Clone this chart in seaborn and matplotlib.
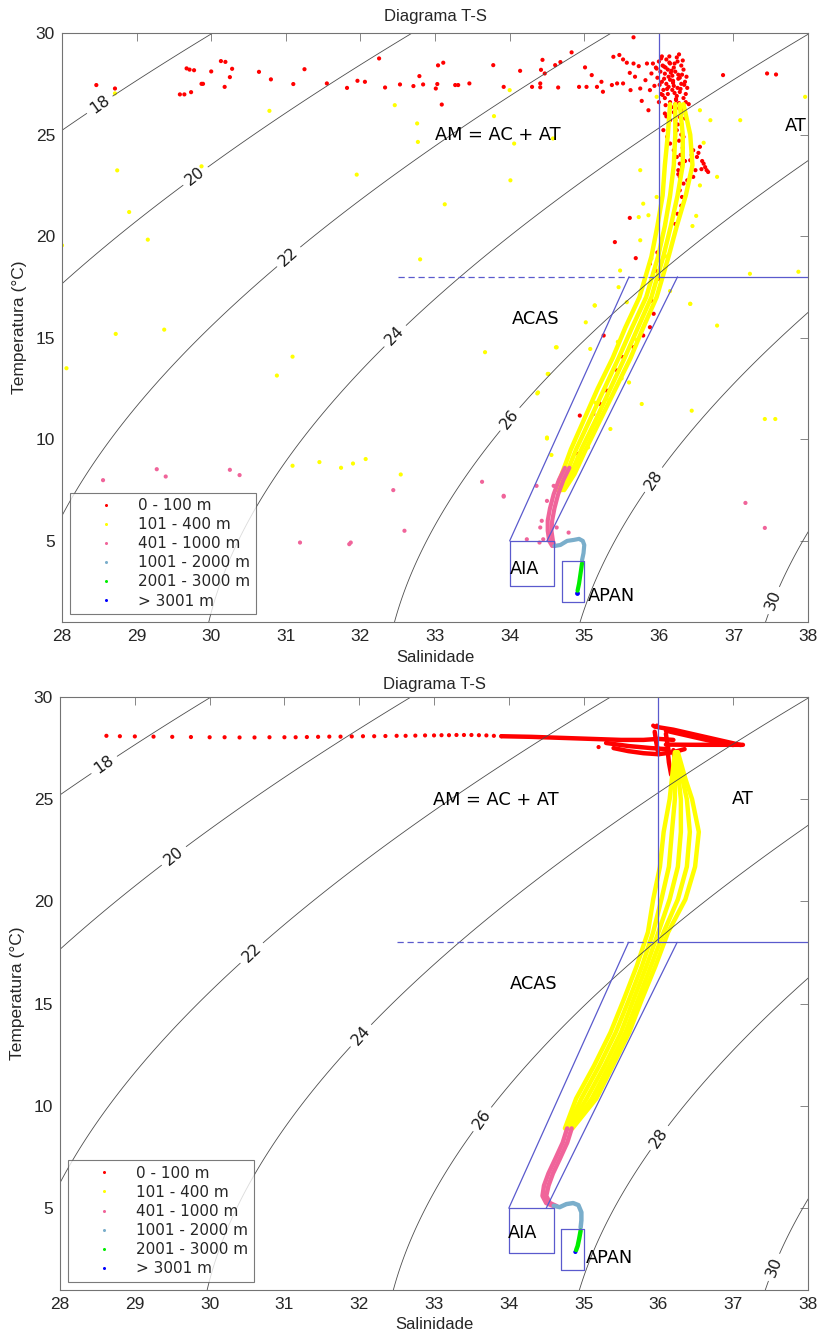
import numpy as np
import pandas as pd
import matplotlib
matplotlib.use("Agg")
import matplotlib.pyplot as plt
from matplotlib.lines import Line2D
import seaborn as sns

# ---------------- categories / styles ----------------
camadas = ['0 - 100 m', '101 - 400 m', '401 - 1000 m', '1001 - 2000 m', '2001 - 3000 m', '> 3001 m']
cores = ['#ff0000', '#ffff00', '#f0649a', '#7aaecb', '#00ee00', '#0000ff']
niveis_sigma = [18, 20, 22, 24, 26, 28, 30]

# ---------------- TOP PANEL DATA (observations) ----------------
top_red_S = [28.46, 28.71, 29.58, 29.64, 29.73, 29.67, 29.71, 29.77, 29.87, 29.89, 30.0, 30.13, 30.19, 30.25,
             30.28, 30.18, 30.64, 30.8, 31.1, 31.25, 31.55, 31.82, 31.96, 32.06, 32.25, 32.33, 32.53, 32.71,
             32.79, 32.84, 33.01, 33.03, 33.04, 33.11, 33.09, 33.27, 33.31, 33.46, 33.78, 33.92, 34.14, 34.3,
             34.41, 34.41, 34.42, 34.44, 34.47, 34.61, 34.65, 34.68, 34.83, 34.93,
             35.01, 35.03, 35.10, 35.17, 35.23, 35.25, 35.37, 35.39, 35.44, 35.47, 35.52, 35.52, 35.57, 35.61,
             35.62, 35.66, 35.68, 35.73, 35.75, 35.77, 35.82, 35.84, 35.86, 35.88, 35.9, 35.66, 36.86, 37.45,
             37.57, 35.61, 35.41, 35.69]
top_red_T = [27.44, 27.27, 26.98, 26.98, 27.09, 28.26, 28.2, 28.17, 27.5, 27.5, 28.11, 28.62, 28.58, 27.83,
             28.24, 27.35, 28.09, 27.72, 27.49, 28.22, 27.52, 27.3, 27.65, 27.6, 28.75, 27.32, 27.47, 27.39,
             27.88, 27.47, 27.27, 27.49, 28.41, 28.54, 26.48, 27.44, 27.44, 27.52, 28.42, 27.35, 28.14, 27.35,
             27.52, 27.33, 28.19, 28.68, 28.01, 28.42, 27.32, 28.57, 29.05, 27.35,
             28.31, 27.35, 27.93, 27.35, 27.6, 27.11, 27.44, 28.83, 27.52, 28.92, 27.52, 28.7, 28.54, 28.04,
             27.19, 28.5, 27.85, 28.37, 27.27, 26.66, 27.68, 28.5, 26.2, 27.19, 28.01, 29.79, 27.93, 28.01,
             27.96, 20.9, 19.71, 18.92]
top_red_cl_S = [36.00, 36.05, 36.10, 36.15, 36.20, 36.25, 36.30, 36.02, 36.08, 36.12, 36.18, 36.22, 36.28, 36.33,
                36.35, 35.98, 36.04, 36.10, 36.15, 36.20, 36.25, 36.30, 36.06, 36.12, 36.18, 36.24, 36.28, 36.33,
                36.15, 36.22, 36.27, 36.30, 35.96, 36.14, 36.24, 36.38, 36.08, 36.20, 36.35, 36.03, 36.17, 36.27,
                35.92, 35.94, 36.00, 36.36, 36.40, 36.30, 36.22, 36.10, 36.19, 36.26, 36.07, 36.31, 36.13, 36.23,
                35.97, 36.03, 36.09, 36.16, 36.21, 36.26, 36.32, 36.37, 36.01, 36.07, 36.13, 36.19, 36.29, 36.34,
                36.05, 36.11, 36.23, 36.17, 36.27, 36.09, 36.21, 36.31, 36.14, 36.04, 36.36]
top_red_cl_T = [28.6, 28.4, 28.7, 28.5, 28.3, 28.6, 28.4, 28.1, 28.0, 28.2, 27.9, 28.1, 27.8, 28.2,
                27.6, 27.8, 27.6, 27.5, 27.7, 27.4, 27.3, 27.5, 27.2, 27.0, 27.2, 26.9, 27.1, 26.8,
                26.6, 26.5, 26.3, 26.0, 28.3, 28.85, 28.8, 27.3, 26.8, 26.1, 25.8, 27.0, 28.15, 28.95,
                28.5, 27.4, 26.6, 27.0, 26.5, 25.5, 25.7, 25.9, 27.65, 27.75, 28.35, 27.95, 27.35, 26.75,
                28.25, 28.75, 28.3, 28.05, 28.5, 27.95, 28.65, 27.85, 27.45, 27.75, 27.85, 27.55, 27.25, 27.45,
                26.95, 27.25, 26.7, 26.35, 26.55, 26.45, 27.05, 26.2, 28.55, 28.85, 26.6]
top_red_tail_S = [36.06, 36.11, 36.15, 36.2, 36.24, 36.28, 36.26, 36.28, 36.33, 36.28, 36.31, 36.46, 36.51, 36.55,
                  36.6, 36.64, 36.66, 36.49, 36.46, 36.42, 36.24, 36.15, 36.08, 36.28, 36.33, 36.3, 36.25, 36.22,
                  36.25, 36.3, 36.27, 36.32, 36.29, 36.35, 36.31, 36.26, 36.38, 36.44, 36.53, 36.58, 36.62, 36.57]
top_red_tail_T = [25.22, 24.89, 24.56, 24.23, 23.9, 23.57, 23.25, 22.92, 22.59, 22.26, 21.93, 24.23, 23.9, 24.4,
                  23.57, 23.25, 23.16, 23.25, 22.92, 23.74, 25.22, 25.71, 26.04, 25.87, 24.89, 21.5, 21.1, 20.6,
                  25.5, 25.0, 24.7, 24.35, 24.0, 23.7, 23.4, 23.05, 22.75, 24.0, 24.1, 23.7, 23.4, 23.3]
top_red_band_S = [35.88, 35.9, 35.93, 35.88, 35.79, 35.66, 35.52, 35.44, 35.3, 35.21, 35.12, 34.94, 34.92, 35.26,
                  35.96, 36.0, 35.98]
top_red_band_T = [18.64, 16.83, 16.18, 15.52, 15.11, 14.54, 14.05, 13.39, 12.4, 11.75, 11.25, 11.17, 9.28, 15.11,
                  18.3, 17.9, 19.2]
top_yel_S = [28.71, 28.74, 28.9, 29.15, 28.0, 29.87, 30.78, 31.95, 32.46, 32.76, 32.77, 32.8, 33.13, 33.79, 34.0,
             34.01, 34.06, 34.58, 28.06, 28.72, 29.37, 31.09, 30.88, 31.09, 31.45, 31.74, 31.9, 32.07, 32.54, 33.67,
             34.62, 34.51, 34.37, 34.5, 34.56, 37.09, 37.96, 37.87, 37.22, 36.78, 36.69, 36.55, 36.42, 36.78, 35.75,
             35.79, 35.73, 35.97, 35.86, 35.75, 35.48, 35.14, 35.46, 35.57, 35.97, 35.14, 35.02, 34.63, 34.52, 34.38,
             35.08, 36.42, 35.77, 36.44, 35.35, 34.5, 37.42, 37.56, 36.1, 36.5, 36.55, 36.0, 35.7, 35.5, 35.3,
             35.05, 34.85, 35.6, 35.45, 35.9, 36.15, 36.45, 36.6, 35.15]
top_yel_T = [27.03, 23.24, 21.19, 19.83, 19.55, 23.44, 26.17, 23.03, 26.45, 25.55, 24.64, 18.86, 21.57, 25.91, 27.19,
             22.75, 24.56, 24.81, 13.5, 15.19, 15.4, 14.07, 13.14, 8.7, 8.88, 8.6, 8.81, 9.03, 8.27, 14.29,
             14.53, 13.22, 12.26, 10.04, 9.23, 25.71, 26.86, 18.25, 18.15, 22.92, 25.71, 26.2, 16.67, 15.6, 23.25,
             21.6, 20.94, 21.93, 21.03, 19.8, 18.31, 16.59, 17.49, 16.75, 26.86, 16.59, 15.76, 14.53, 13.22, 12.31,
             14.45, 16.67, 11.74, 11.41, 10.51, 10.09, 11.0, 11.0, 19.0, 21.0, 22.5, 17.4, 14.9, 13.0, 12.0,
             9.6, 8.6, 12.8, 14.8, 18.9, 17.3, 20.5, 24.6, 11.8]
# CTD-like profiles of the dense 101-400 m band
top_yel_prof_T = [26.5, 25.0, 23.5, 22.0, 20.5, 19.0, 18.0, 17.0, 15.5, 14.0, 12.5, 11.0, 9.5, 8.3, 7.5]
top_yel_prof_A = [36.15, 36.12, 36.08, 36.05, 35.98, 35.90, 35.82, 35.74, 35.55, 35.38, 35.18, 35.00, 34.82, 34.70, 34.62]
top_yel_prof_B = [36.22, 36.22, 36.20, 36.15, 36.08, 35.99, 35.91, 35.83, 35.64, 35.46, 35.27, 35.08, 34.89, 34.76, 34.66]
top_yel_prof_C = [36.28, 36.32, 36.32, 36.25, 36.16, 36.06, 35.98, 35.90, 35.72, 35.54, 35.35, 35.16, 34.96, 34.82, 34.70]
top_yel_prof_D = [36.33, 36.42, 36.45, 36.36, 36.24, 36.13, 36.05, 35.97, 35.79, 35.62, 35.42, 35.22, 35.02, 34.87, 34.73]
top_pink_S = [28.55, 29.27, 29.39, 30.25, 30.38, 31.19, 31.85, 31.87, 32.44, 32.59, 33.63, 33.92, 34.36, 34.5,
              34.41, 34.45, 33.92, 34.59, 34.43, 34.23, 34.4, 34.79, 34.63, 37.16, 37.42]
top_pink_T = [7.99, 8.53, 8.17, 8.5, 8.24, 4.92, 4.84, 4.92, 7.5, 5.5, 7.91, 7.18, 7.71, 6.97,
              5.66, 5.08, 7.22, 7.71, 5.99, 5.08, 4.92, 5.41, 5.66, 6.87, 5.64]
top_pink_prof_T = [8.6, 8.0, 7.3, 6.6, 6.0, 5.5, 5.0, 4.75]
top_pink_prof_A = [34.74, 34.66, 34.59, 34.54, 34.51, 34.51, 34.53, 34.57]
top_pink_prof_B = [34.80, 34.72, 34.65, 34.60, 34.57, 34.56, 34.58, 34.60]
top_lblue_S = [34.60, 34.68, 34.77, 34.86, 34.93, 34.98, 35.00, 34.99, 34.97]
top_lblue_T = [4.75, 4.80, 5.00, 5.05, 5.10, 5.00, 4.80, 4.40, 4.05]
top_green_S = [34.97, 34.95, 34.93, 34.91]
top_green_T = [3.90, 3.40, 2.90, 2.55]
top_blue_S = [34.90]
top_blue_T = [2.45]

# ---------------- BOTTOM PANEL DATA (model) ----------------
bot_red_dots_S = [28.62, 28.8, 29.0, 29.25, 29.5, 29.75, 30.0, 30.2, 30.4, 30.6, 30.8, 31.0, 31.15, 31.3, 31.45,
                  31.6, 31.75, 31.9, 32.05, 32.2, 32.35, 32.5, 32.62, 32.75, 32.88, 33.0, 33.1, 33.2, 33.3, 33.4,
                  33.5, 33.6, 33.7, 33.8, 33.9, 35.2, 35.93, 35.98]
bot_red_dots_T = [28.1, 28.08, 28.07, 28.06, 28.05, 28.04, 28.03, 28.03, 28.02, 28.02, 28.03, 28.03, 28.03, 28.04,
                  28.05, 28.06, 28.06, 28.07, 28.08, 28.08, 28.09, 28.1, 28.1, 28.11, 28.12, 28.12, 28.13, 28.13,
                  28.14, 28.14, 28.14, 28.13, 28.12, 28.1, 28.08, 27.55, 28.6, 28.6]
bot_red_lines = [
    ([33.9, 34.3, 34.7, 35.1, 35.5, 35.8, 36.0, 36.2], [28.08, 28.05, 28.0, 27.95, 27.9, 27.9, 27.95, 27.9]),
    ([35.4, 35.6, 35.8, 36.0, 36.2, 36.35], [27.5, 27.35, 27.25, 27.2, 27.3, 27.45]),
    ([35.3, 35.6, 35.9, 36.1], [27.75, 27.6, 27.5, 27.45]),
    ([35.95, 35.97, 36.0], [28.3, 27.8, 27.2]),
    ([36.1, 36.12, 36.14], [28.2, 27.7, 27.3]),
    ([35.95, 36.2, 36.5, 36.8, 37.1], [28.55, 28.4, 28.15, 27.9, 27.65]),
    ([36.1, 36.4, 36.7, 37.0], [28.35, 28.1, 27.85, 27.65]),
    ([36.1, 36.5, 36.8, 37.13], [27.67, 27.66, 27.66, 27.66]),
    ([36.2, 36.22, 36.24, 36.25], [27.4, 26.9, 26.4, 25.9]),
    ([36.12, 36.14, 36.17], [27.5, 26.8, 26.2]),
]
bot_yel_T = [27.3, 26.0, 25.0, 23.4, 21.7, 20.1, 18.5, 16.84, 15.23, 13.6, 11.97, 10.36, 8.9]
bot_yel_profiles = [
    [36.22, 36.18, 36.15, 36.07, 36.02, 35.93, 35.86, 35.71, 35.54, 35.36, 35.14, 34.90, 34.75],
    [36.23, 36.22, 36.22, 36.18, 36.14, 36.04, 35.93, 35.78, 35.61, 35.43, 35.21, 34.97, 34.78],
    [36.24, 36.27, 36.30, 36.30, 36.26, 36.15, 36.00, 35.84, 35.67, 35.50, 35.28, 35.04, 34.80],
    [36.25, 36.32, 36.38, 36.42, 36.38, 36.26, 36.07, 35.90, 35.73, 35.56, 35.34, 35.11, 34.83],
    [36.26, 36.36, 36.45, 36.54, 36.49, 36.36, 36.13, 35.96, 35.78, 35.61, 35.39, 35.17, 34.85],
]
bot_pink_T = [8.9, 8.2, 7.4, 6.7, 6.1, 5.6, 5.25, 5.1]
bot_pink_profiles = [
    [34.78, 34.72, 34.62, 34.53, 34.47, 34.45, 34.50, 34.60],
    [34.84, 34.78, 34.68, 34.59, 34.53, 34.50, 34.55, 34.64],
]
bot_lblue_S = [34.60, 34.68, 34.77, 34.86, 34.93, 34.97, 34.97, 34.96]
bot_lblue_T = [5.12, 5.05, 5.20, 5.25, 5.15, 4.80, 4.40, 4.05]
bot_green_S = [34.96, 34.94, 34.92, 34.90]
bot_green_T = [3.90, 3.50, 3.15, 2.95]
bot_blue_S = [34.89]
bot_blue_T = [2.86]

# water-mass labels and contour-label anchors
massas_txt = ['AM = AC + AT', 'AT', 'ACAS', 'AIA', 'APAN']
top_txt_pos = [(33.0, 24.97), (37.69, 25.4), (34.03, 15.9), (34.0, 3.62), (35.05, 2.29)]
bot_txt_pos = [(32.99, 24.98), (36.98, 25.0), (34.02, 15.96), (33.99, 3.78), (35.03, 2.56)]
top_clabel_pos = [(28.51, 26.45), (29.78, 23.0), (31.06, 18.9), (32.46, 15.1), (34.03, 10.92), (35.95, 7.96), (37.56, 2.04)]
bot_clabel_pos = [(28.75, 25.9), (29.54, 22.15), (30.51, 17.67), (32.1, 13.2), (33.95, 8.6), (36.02, 8.41), (37.7, 1.9)]


def sigma_t(S, T):
    rw = (999.842594 + 6.793952e-2 * T - 9.095290e-3 * T**2 + 1.001685e-4 * T**3
          - 1.120083e-6 * T**4 + 6.536332e-9 * T**5)
    A = 8.24493e-1 - 4.0899e-3 * T + 7.6438e-5 * T**2 - 8.2467e-7 * T**3 + 5.3875e-9 * T**4
    B = -5.72466e-3 + 1.0227e-4 * T - 1.6546e-6 * T**2
    C = 4.8314e-4
    return rw + A * S + B * S**1.5 + C * S**2 - 1000.0


def pts(S, T, c):
    return pd.DataFrame({'S': S, 'T': T, 'camada': camadas[c]})


def prof(S, T, c, pid):
    return pd.DataFrame({'S': S, 'T': T, 'camada': camadas[c], 'perfil': pid})


sns.set_theme(style='white')
plt.rcParams['font.family'] = ['DejaVu Sans']
pal = dict(zip(camadas, cores))
box_c = '#5a5acd'
axfont = 'Liberation Sans'

fig = plt.figure(figsize=(8.19, 13.38), dpi=100)
ax1 = fig.add_axes([0.0757, 0.535, 0.911, 0.4403])
ax2 = fig.add_axes([0.0733, 0.0359, 0.9133, 0.4432])

Sg, Tg = np.meshgrid(np.linspace(27.5, 38.5, 300), np.linspace(0.5, 30.5, 300))
SIG = sigma_t(Sg, Tg)


def decorate(ax, txt_pos, cl_pos, title_pad):
    cs = ax.contour(Sg, Tg, SIG, levels=niveis_sigma, colors='0.3', linewidths=0.6)
    ax.clabel(cs, manual=cl_pos, inline=True, fontsize=11.5, fmt='%d', inline_spacing=4, colors='k')
    # water-mass limits
    ax.plot([36, 36], [18, 30], color=box_c, lw=0.9)
    ax.plot([36, 38], [18, 18], color=box_c, lw=0.9)
    ax.plot([32.5, 36], [18, 18], color=box_c, lw=0.9, ls=(0, (5, 3)))
    ax.plot([34.0, 35.6], [5, 18], color=box_c, lw=0.9)
    ax.plot([34.5, 36.25], [5, 18], color=box_c, lw=0.9)
    ax.plot([34.0, 34.6, 34.6, 34.0, 34.0], [5, 5, 2.8, 2.8, 5], color=box_c, lw=0.9)
    ax.plot([34.7, 35.0, 35.0, 34.7, 34.7], [4.0, 4.0, 2.0, 2.0, 4.0], color=box_c, lw=0.9)
    for t, (x, y) in zip(massas_txt, txt_pos):
        ax.text(x, y, t, fontsize=12.8, ha='left', va='center', color='black')
    ax.set_xlim(28, 38)
    ax.set_ylim(1, 30)
    ax.set_xticks(range(28, 39))
    ax.set_yticks([5, 10, 15, 20, 25, 30])
    ax.tick_params(direction='in', top=True, right=True, length=6, width=0.6, color='0.45',
                   labelsize=12.5, pad=5)
    for lab in ax.get_xticklabels() + ax.get_yticklabels():
        lab.set_family(axfont)
    for sp in ax.spines.values():
        sp.set_color('0.45')
        sp.set_linewidth(0.8)
    ax.set_xlabel('Salinidade', family=axfont, fontsize=12, labelpad=4)
    ax.set_ylabel('Temperatura (°C)', family=axfont, fontsize=12.5, labelpad=6)
    ax.set_title('Diagrama T-S', family=axfont, fontsize=12, pad=title_pad)
    handles = [Line2D([], [], ls='none', marker='o', ms=2.2, mec='none', mfc=c) for c in cores]
    leg = ax.legend(handles, camadas, loc='lower left', bbox_to_anchor=(0.011, 0.014), borderaxespad=0,
                    frameon=True, fancybox=False, edgecolor='0.35', fontsize=11, handlelength=4.0,
                    handletextpad=0.1, borderpad=0.35, labelspacing=0.27)
    leg.get_frame().set_linewidth(0.8)
    leg.set_zorder(10)


# ----- top panel -----
top_lines = pd.concat([
    prof(top_yel_prof_A, top_yel_prof_T, 1, 'yA'), prof(top_yel_prof_B, top_yel_prof_T, 1, 'yB'),
    prof(top_yel_prof_C, top_yel_prof_T, 1, 'yC'), prof(top_yel_prof_D, top_yel_prof_T, 1, 'yD'),
], ignore_index=True)
sns.lineplot(data=top_lines, x='S', y='T', hue='camada', units='perfil', estimator=None, sort=False,
             palette=pal, lw=3.2, legend=False, ax=ax1, solid_capstyle='round')
top_pts = pd.concat([
    pts(top_yel_S, top_yel_T, 1), pts(top_red_S, top_red_T, 0), pts(top_red_cl_S, top_red_cl_T, 0),
    pts(top_red_tail_S, top_red_tail_T, 0), pts(top_red_band_S, top_red_band_T, 0),
    pts(top_pink_S, top_pink_T, 2),
], ignore_index=True)
sns.scatterplot(data=top_pts, x='S', y='T', hue='camada', palette=pal, s=9, linewidth=0, legend=False, ax=ax1)
top_deep = pd.concat([
    prof(top_pink_prof_A, top_pink_prof_T, 2, 'pA'), prof(top_pink_prof_B, top_pink_prof_T, 2, 'pB'),
    prof(top_lblue_S, top_lblue_T, 3, 'b'), prof(top_green_S, top_green_T, 4, 'g'),
], ignore_index=True)
sns.lineplot(data=top_deep, x='S', y='T', hue='camada', units='perfil', estimator=None, sort=False,
             palette=pal, lw=3.0, legend=False, ax=ax1, solid_capstyle='round')
sns.scatterplot(data=pts(top_blue_S, top_blue_T, 5), x='S', y='T', hue='camada', palette=pal, s=12,
                linewidth=0, legend=False, ax=ax1)
decorate(ax1, top_txt_pos, top_clabel_pos, 9)

# ----- bottom panel -----
frames = []
for i, (s, t) in enumerate(bot_red_lines):
    frames.append(prof(s, t, 0, f'r{i}'))
for i, s in enumerate(bot_yel_profiles):
    frames.append(prof(s, bot_yel_T, 1, f'y{i}'))
for i, s in enumerate(bot_pink_profiles):
    frames.append(prof(s, bot_pink_T, 2, f'p{i}'))
frames.append(prof(bot_lblue_S, bot_lblue_T, 3, 'b'))
frames.append(prof(bot_green_S, bot_green_T, 4, 'g'))
bot_lines = pd.concat(frames, ignore_index=True)
sns.lineplot(data=bot_lines, x='S', y='T', hue='camada', units='perfil', estimator=None, sort=False,
             palette=pal, lw=3.2, legend=False, ax=ax2, solid_capstyle='round')
bot_pts = pd.concat([pts(bot_red_dots_S, bot_red_dots_T, 0), pts(bot_blue_S, bot_blue_T, 5)], ignore_index=True)
sns.scatterplot(data=bot_pts, x='S', y='T', hue='camada', palette=pal, s=9, linewidth=0, legend=False, ax=ax2)
decorate(ax2, bot_txt_pos, bot_clabel_pos, 6)

fig.savefig('out.png', dpi=100)
